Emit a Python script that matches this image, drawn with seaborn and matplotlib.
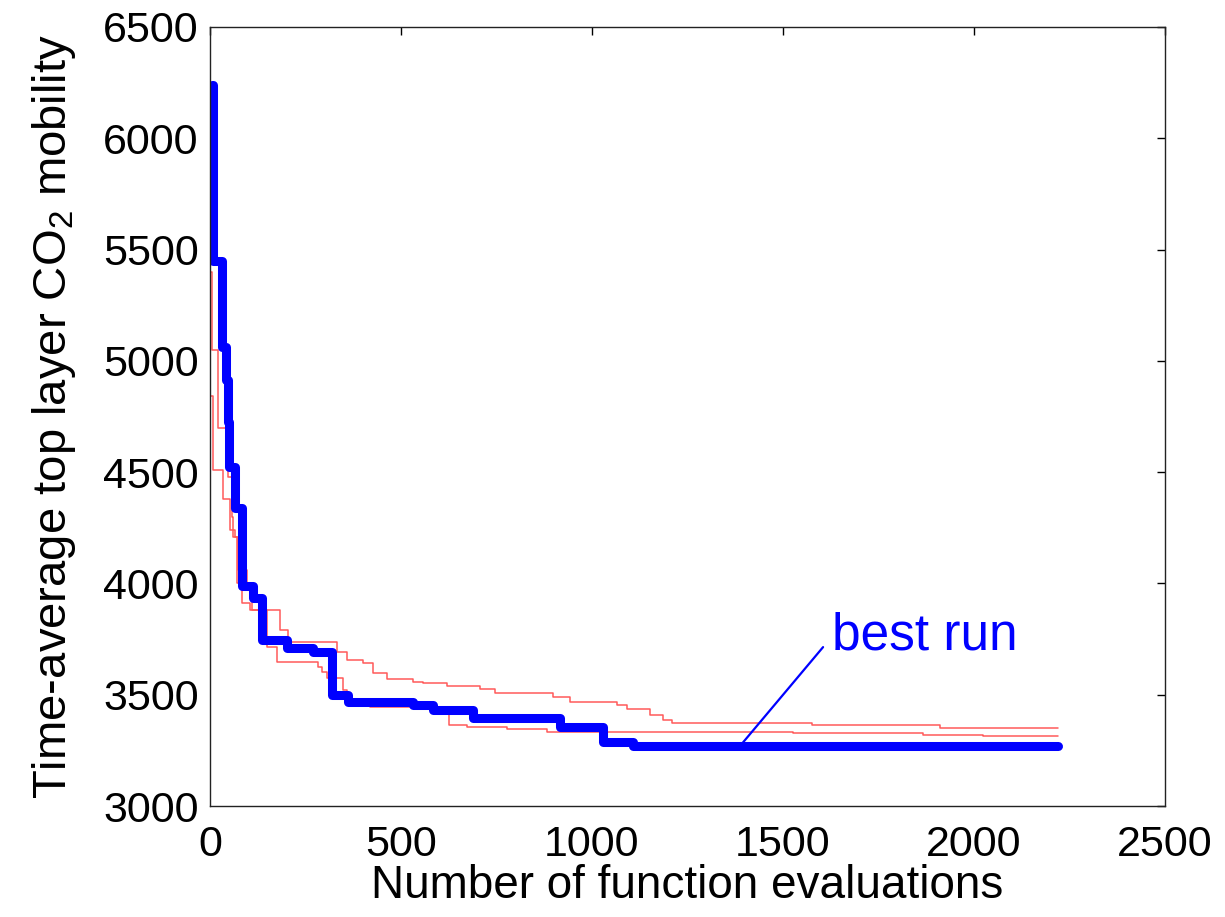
import matplotlib
matplotlib.use("Agg")
import matplotlib.pyplot as plt
import seaborn as sns
import pandas as pd

# Best-so-far objective value versus number of function evaluations
best_evals = [5, 8, 31, 42, 47, 50, 65, 84, 113, 136, 202, 270, 319, 361, 531, 584, 688, 916, 1029, 1107, 2220]
best_vals = [6240, 5450, 5062, 4913, 4725, 4523, 4339, 3990, 3935, 3746, 3710, 3692, 3499, 3467, 3454, 3431, 3395, 3355, 3287, 3270, 3270]

run_a_evals = [2, 5, 21, 47, 58, 60, 73, 97, 110, 183, 204, 332, 359, 401, 427, 463, 531, 558, 620, 707, 746,
               898, 942, 1065, 1092, 1152, 1186, 1209, 1576, 1911, 2220]
run_a_vals = [5400, 5050, 4700, 4480, 4300, 4210, 4060, 3990, 3880, 3791, 3737, 3692, 3656, 3642, 3597, 3570, 3557,
              3552, 3539, 3526, 3508, 3490, 3467, 3454, 3436, 3409, 3386, 3373, 3364, 3352, 3352]

run_b_evals = [2, 8, 34, 52, 65, 71, 84, 105, 149, 175, 283, 293, 306, 348, 359, 420, 625, 673, 777, 882,
               1526, 1866, 2024, 2220]
run_b_vals = [4840, 4510, 4380, 4240, 4208, 4000, 3912, 3880, 3714, 3647, 3624, 3600, 3575, 3521, 3480, 3445, 3362,
              3355, 3346, 3334, 3329, 3319, 3316, 3316]

x_ticks = [0, 500, 1000, 1500, 2000, 2500]
y_ticks = [3000, 3500, 4000, 4500, 5000, 5500, 6000, 6500]

# Callout pointing to the best run
label_line_x = [1395, 1605]
label_line_y = [3285, 3714]
label_pos = (1628, 3765)

sns.set_style("white")
plt.rcParams["font.family"] = ["Liberation Sans", "DejaVu Sans"]
plt.rcParams["mathtext.fontset"] = "custom"
plt.rcParams["mathtext.rm"] = "Liberation Sans"

fig = plt.figure(figsize=(12.25, 9.17), dpi=100)
ax = fig.add_axes([0.1714, 0.121, 0.7796, 0.8496])

red = "#ff5a5a"
for ev, vals in [(run_a_evals, run_a_vals), (run_b_evals, run_b_vals)]:
    df = pd.DataFrame({"evals": ev, "value": vals})
    sns.lineplot(data=df, x="evals", y="value", ax=ax, color=red, linewidth=1.1,
                 drawstyle="steps-post", estimator=None, sort=False)

df_best = pd.DataFrame({"evals": best_evals, "value": best_vals})
sns.lineplot(data=df_best, x="evals", y="value", ax=ax, color="#0000ff", linewidth=6.5,
             drawstyle="steps-post", estimator=None, sort=False)

ax.plot(label_line_x, label_line_y, color="#0000ff", linewidth=1.6)
ax.text(label_pos[0], label_pos[1], "best run", color="#0000ff", fontsize=37,
        ha="left", va="center")

ax.set_xlim(0, 2500)
ax.set_ylim(3000, 6500)
ax.set_xticks(x_ticks)
ax.set_yticks(y_ticks)
ax.tick_params(direction="in", length=6, width=1.0, top=True, right=True,
               labelsize=31, colors="black")
ax.tick_params(axis="x", pad=14)
ax.tick_params(axis="y", pad=8)
for s in ax.spines.values():
    s.set_color("#222222")
    s.set_linewidth(1.0)

ax.set_xlabel("Number of function evaluations", fontsize=33, labelpad=-1, color="black")
ax.set_ylabel(r"Time-average top layer CO$_2$ mobility", fontsize=34, labelpad=18, color="black")

fig.savefig("out.png", dpi=100)
